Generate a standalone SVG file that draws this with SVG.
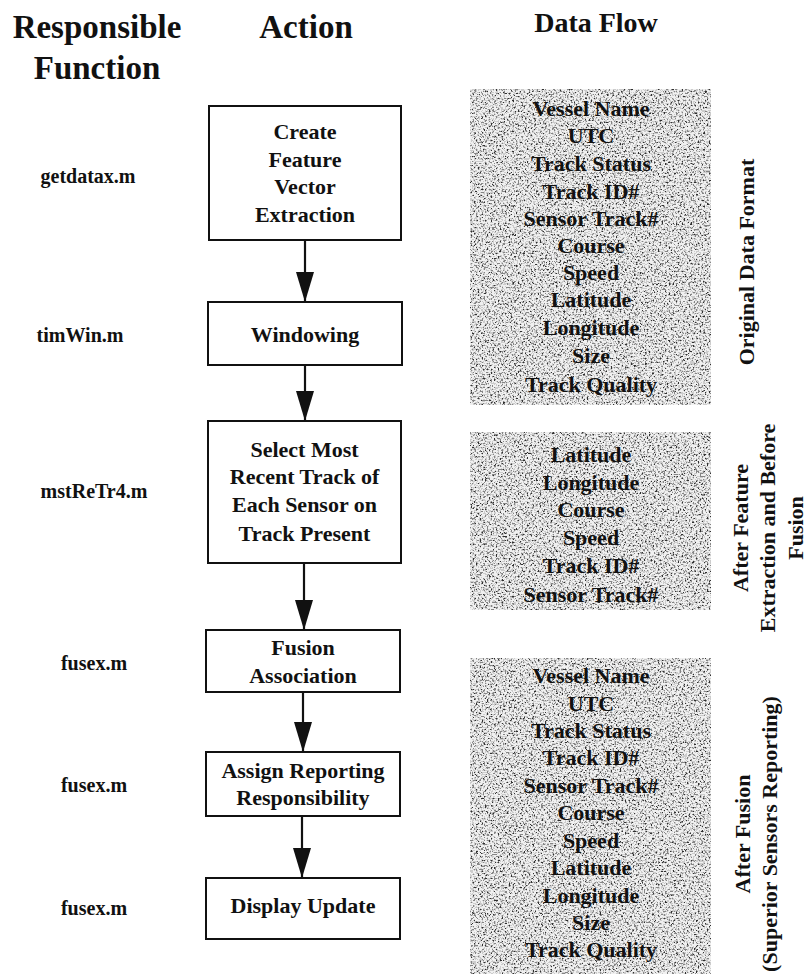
<svg xmlns="http://www.w3.org/2000/svg" width="810" height="974" viewBox="0 0 810 974">
<style>
  text { font-family: "Liberation Serif", "Times New Roman", serif; font-weight: bold; fill: #111; }
  .hdr { font-size: 33px; text-anchor: middle; }
  .hdr2 { font-size: 28px; text-anchor: middle; }
  .fn { font-size: 20px; text-anchor: middle; }
  .box rect { fill: #fff; stroke: #111; stroke-width: 2; }
  .box text { font-size: 22px; text-anchor: middle; }
  .panel text { font-size: 22px; text-anchor: middle; }
  .side { font-size: 22px; text-anchor: middle; }
  .conn line { stroke: #111; stroke-width: 2.2; }
</style>
<defs>
  <marker id="ah" markerUnits="userSpaceOnUse" markerWidth="32" markerHeight="20" refX="30" refY="9" orient="auto">
    <path d="M0,0 L30,9 L0,18 Z" fill="#111"/>
  </marker>
  <filter id="speckle" x="0" y="0" width="100%" height="100%">
    <feTurbulence type="fractalNoise" baseFrequency="0.55" numOctaves="2" seed="7" result="n"/>
    <feColorMatrix in="n" type="matrix" values="0 0 0 0 0  0 0 0 0 0  0 0 0 0 0  1.6 0 0 0 -0.3" result="a"/>
    <feComponentTransfer in="a" result="d">
      <feFuncA type="discrete" tableValues="0 0 0 0.15 0.45 0.8"/>
    </feComponentTransfer>
    <feComposite in="d" in2="SourceGraphic" operator="in"/>
  </filter>
</defs>
<rect width="810" height="974" fill="#fff"/>

<g id="headers">
  <text class="hdr" x="97" y="38">Responsible</text>
  <text class="hdr" x="97" y="79">Function</text>
  <text class="hdr" x="306" y="38">Action</text>
  <text class="hdr2" x="596" y="32">Data Flow</text>
</g>

<g id="functions">
  <text class="fn" x="88" y="183">getdatax.m</text>
  <text class="fn" x="80" y="342">timWin.m</text>
  <text class="fn" x="94" y="498">mstReTr4.m</text>
  <text class="fn" x="94" y="670">fusex.m</text>
  <text class="fn" x="94" y="792">fusex.m</text>
  <text class="fn" x="94" y="915">fusex.m</text>
</g>

<g id="node-create" class="box">
  <rect x="209" y="106" width="192" height="134"/>
  <text x="305" y="139">Create</text>
  <text x="305" y="167">Feature</text>
  <text x="305" y="194">Vector</text>
  <text x="305" y="222">Extraction</text>
</g>
<g id="node-windowing" class="box">
  <rect x="208" y="302" width="194" height="63"/>
  <text x="305" y="342">Windowing</text>
</g>
<g id="node-select" class="box">
  <rect x="208" y="421" width="193" height="142"/>
  <text x="304.5" y="457">Select Most</text>
  <text x="304.5" y="484">Recent Track of</text>
  <text x="304.5" y="512">Each Sensor on</text>
  <text x="304.5" y="541">Track Present</text>
</g>
<g id="node-fusion" class="box">
  <rect x="206" y="630" width="194" height="62"/>
  <text x="303" y="655">Fusion</text>
  <text x="303" y="683">Association</text>
</g>
<g id="node-assign" class="box">
  <rect x="206" y="752" width="194" height="64"/>
  <text x="303" y="778">Assign Reporting</text>
  <text x="303" y="805">Responsibility</text>
</g>
<g id="node-display" class="box">
  <rect x="206" y="878" width="194" height="61"/>
  <text x="303" y="913">Display Update</text>
</g>

<g id="connectors" class="conn">
  <line x1="305" y1="240" x2="305" y2="302" marker-end="url(#ah)"/>
  <line x1="305" y1="365" x2="305" y2="421" marker-end="url(#ah)"/>
  <line x1="304" y1="563" x2="304" y2="630" marker-end="url(#ah)"/>
  <line x1="303" y1="692" x2="303" y2="752" marker-end="url(#ah)"/>
  <line x1="302" y1="816" x2="302" y2="878" marker-end="url(#ah)"/>
</g>

<g id="panel-original" class="panel">
  <rect x="470" y="89" width="241" height="316" fill="#f0f0f0"/>
  <rect x="470" y="89" width="241" height="316" fill="#000" filter="url(#speckle)"/>
  <text x="591" y="116">Vessel Name</text>
  <text x="591" y="143">UTC</text>
  <text x="591" y="171">Track Status</text>
  <text x="591" y="199">Track ID#</text>
  <text x="591" y="226">Sensor Track#</text>
  <text x="591" y="253">Course</text>
  <text x="591" y="280">Speed</text>
  <text x="591" y="307">Latitude</text>
  <text x="591" y="335">Longitude</text>
  <text x="591" y="363">Size</text>
  <text x="591" y="392">Track Quality</text>
</g>

<g id="panel-feature" class="panel">
  <rect x="470" y="432" width="241" height="178" fill="#f0f0f0"/>
  <rect x="470" y="432" width="241" height="178" fill="#000" filter="url(#speckle)"/>
  <text x="591" y="462">Latitude</text>
  <text x="591" y="490">Longitude</text>
  <text x="591" y="517">Course</text>
  <text x="591" y="545">Speed</text>
  <text x="591" y="573">Track ID#</text>
  <text x="591" y="602">Sensor Track#</text>
</g>

<g id="panel-fusion" class="panel">
  <rect x="470" y="658" width="241" height="316" fill="#f0f0f0"/>
  <rect x="470" y="658" width="241" height="316" fill="#000" filter="url(#speckle)"/>
  <text x="591" y="683">Vessel Name</text>
  <text x="591" y="711">UTC</text>
  <text x="591" y="738">Track Status</text>
  <text x="591" y="765">Track ID#</text>
  <text x="591" y="793">Sensor Track#</text>
  <text x="591" y="820">Course</text>
  <text x="591" y="848">Speed</text>
  <text x="591" y="875">Latitude</text>
  <text x="591" y="903">Longitude</text>
  <text x="591" y="930">Size</text>
  <text x="591" y="957">Track Quality</text>
</g>

<g id="side-labels">
  <text class="side" transform="translate(754,262) rotate(-90)">Original Data Format</text>
  <g transform="translate(0,528) rotate(-90)">
    <text class="side" x="0" y="748">After Feature</text>
    <text class="side" x="0" y="775">Extraction and Before</text>
    <text class="side" x="0" y="803">Fusion</text>
  </g>
  <g transform="translate(0,834) rotate(-90)">
    <text class="side" x="0" y="750">After Fusion</text>
    <text class="side" x="0" y="777">(Superior Sensors Reporting)</text>
  </g>
</g>
</svg>
